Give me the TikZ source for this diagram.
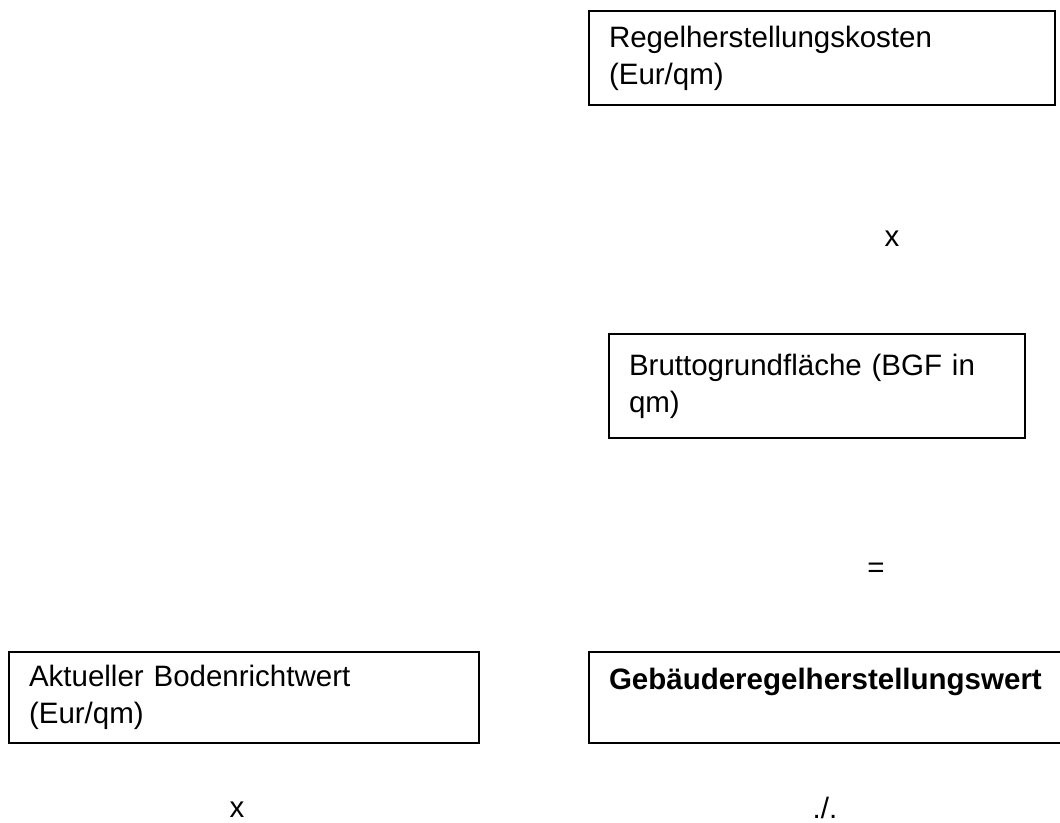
\documentclass[tikz,border=0pt]{standalone}
\usepackage{fontspec}
\setmainfont{Liberation Sans}
\begin{document}
\begin{tikzpicture}[x=0.5pt,y=-0.5pt]
			\tikzset{every node/.style={font=\fontsize{14.75pt}{18.5pt}\selectfont}}
			\tikzset{kasten/.style={draw,line width=1pt,rectangle,anchor=north west,inner xsep=10pt,inner ysep=0pt,align=left}}
			\tikzset{zeichen/.style={anchor=base,inner sep=0pt}}
			\useasboundingbox (0,0) rectangle (1060,823);
			\node[kasten,minimum width=233pt,minimum height=47pt,text width=213pt] (regelkosten) at (588,10) {Regelherstellungskosten\\(Eur/qm)};
			\node[zeichen] (mal1) at (892,247) {x};
			\node[kasten,minimum width=208pt,minimum height=52pt,text width=188pt] (bgf) at (608,333) {Bruttogrundfläche (BGF in\\qm)};
			\node[zeichen] (gleich) at (876,577) {=};
			\node[kasten,minimum width=235pt,minimum height=45.5pt,text width=215pt] (bodenwert) at (8,651) {Aktueller Bodenrichtwert\\(Eur/qm)};
			\node[kasten,minimum width=239pt,minimum height=45.5pt,text width=219pt] (gebwert) at (588,651) {\textbf{Gebäuderegelherstellungswert}\\\mbox{}};
			\node[zeichen] (mal2) at (237,817) {x};
			\node[zeichen] (minus) at (825,818) {./.};
		\end{tikzpicture}
\end{document}
